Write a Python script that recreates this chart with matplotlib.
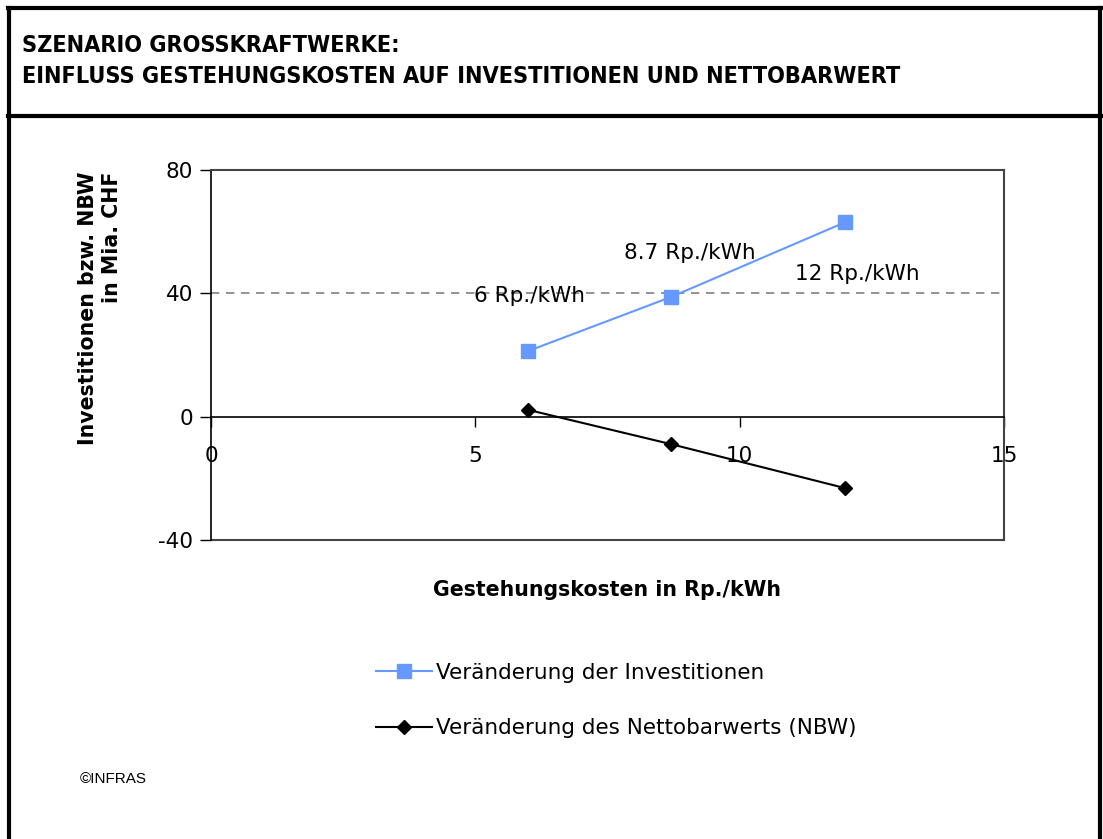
import matplotlib
matplotlib.use("Agg")
import matplotlib.pyplot as plt
from matplotlib.lines import Line2D

# Data
kosten = [6, 8.7, 12]
investitionen = [21.3, 38.8, 63.1]
nbw = [2.2, -8.9, -23.2]
punkt_labels = ["6 Rp./kWh", "8.7 Rp./kWh", "12 Rp./kWh"]
label_pos_x = [6.03, 9.06, 12.22]
label_pos_y = [39.1, 53.0, 46.3]
x_ticks = [0, 5, 10, 15]
y_ticks = [-40, 0, 40, 80]

title = "SZENARIO GROSSKRAFTWERKE:\nEINFLUSS GESTEHUNGSKOSTEN AUF INVESTITIONEN UND NETTOBARWERT"
ser1 = "Veränderung der Investitionen"
ser2 = "Veränderung des Nettobarwerts (NBW)"

FONT = ["DejaVu Sans"]
plt.rcParams['font.family'] = FONT

W, H = 1103, 839
fig = plt.figure(figsize=(W / 100, H / 100), dpi=100)

def fx(px):
    return px / W

def fy(py):
    return 1 - py / H

# Outer frame and header separator
frame_kw = dict(color='black', lw=3, transform=fig.transFigure)
fig.add_artist(Line2D([fx(9), fx(9)], [fy(8), 0], **frame_kw))
fig.add_artist(Line2D([fx(1100), fx(1100)], [fy(8), 0], **frame_kw))
fig.add_artist(Line2D([fx(8), fx(1101)], [fy(8), fy(8)], **frame_kw))
fig.add_artist(Line2D([fx(8), fx(1101)], [fy(116), fy(116)], **frame_kw))

fig.text(fx(22), fy(61), title, fontsize=16.8, fontweight='bold', fontstretch='condensed',
         va='center', ha='left', linespacing=1.45)

ax = fig.add_axes([fx(211), fy(540), fx(1004) - fx(211), fy(170) - fy(540)])
ax.set_xlim(0, 15)
ax.set_ylim(-40, 80)

ax.axhline(40, color='#808080', lw=1.2, ls=(0, (5, 4)), zorder=1)
ax.axhline(-40, color='#444444', lw=1.5, zorder=1, clip_on=False)

l1, = ax.plot(kosten, investitionen, color='#6699FF', lw=1.5, marker='s', markersize=10,
              markerfacecolor='#6699FF', markeredgecolor='#6699FF', zorder=3)
l2, = ax.plot(kosten, nbw, color='black', lw=1.5, marker='D', markersize=7,
              markerfacecolor='black', zorder=3)

for t, x, y in zip(punkt_labels, label_pos_x, label_pos_y):
    ax.text(x, y, t, fontsize=15.5, ha='center', va='center', zorder=4)

ax.spines['bottom'].set_position(('data', 0))
ax.spines['left'].set_position(('data', 0))
ax.spines['left'].set_color('black')
ax.spines['bottom'].set_color('black')
ax.spines['left'].set_linewidth(1.2)
ax.spines['bottom'].set_linewidth(1.2)
for s in ['top', 'right']:
    ax.spines[s].set_color('#444444')
    ax.spines[s].set_linewidth(1.5)

ax.set_xticks(x_ticks)
ax.set_yticks(y_ticks)
ax.set_xticklabels([str(v) for v in x_ticks])
ax.set_yticklabels([str(v) for v in y_ticks])
ax.tick_params(axis='x', direction='out', length=7, width=1, pad=14, labelsize=15.5)
ax.tick_params(axis='y', direction='out', length=8, width=1, pad=5, labelsize=15.5)
ax.patch.set_alpha(0)

fig.text(fx(100), fy(308), "Investitionen bzw. NBW\nin Mia. CHF", rotation=90,
         fontsize=14.8, fontweight='bold', ha='center', va='center', multialignment='right',
         linespacing=1.2)
fig.text(fx(607), fy(590), "Gestehungskosten in Rp./kWh", fontsize=14.8, fontweight='bold',
         ha='center', va='center')

leg = fig.legend([l1, l2], [ser1, ser2], loc='upper left',
                 bbox_to_anchor=(fx(365), fy(652)), frameon=False, fontsize=15.5,
                 handlelength=2.6, handletextpad=0.2, labelspacing=1.65, borderpad=0)

fig.text(fx(80), fy(779), "©INFRAS", fontsize=11, family='Liberation Sans', va='center', ha='left')

fig.savefig("out.png", dpi=100)
